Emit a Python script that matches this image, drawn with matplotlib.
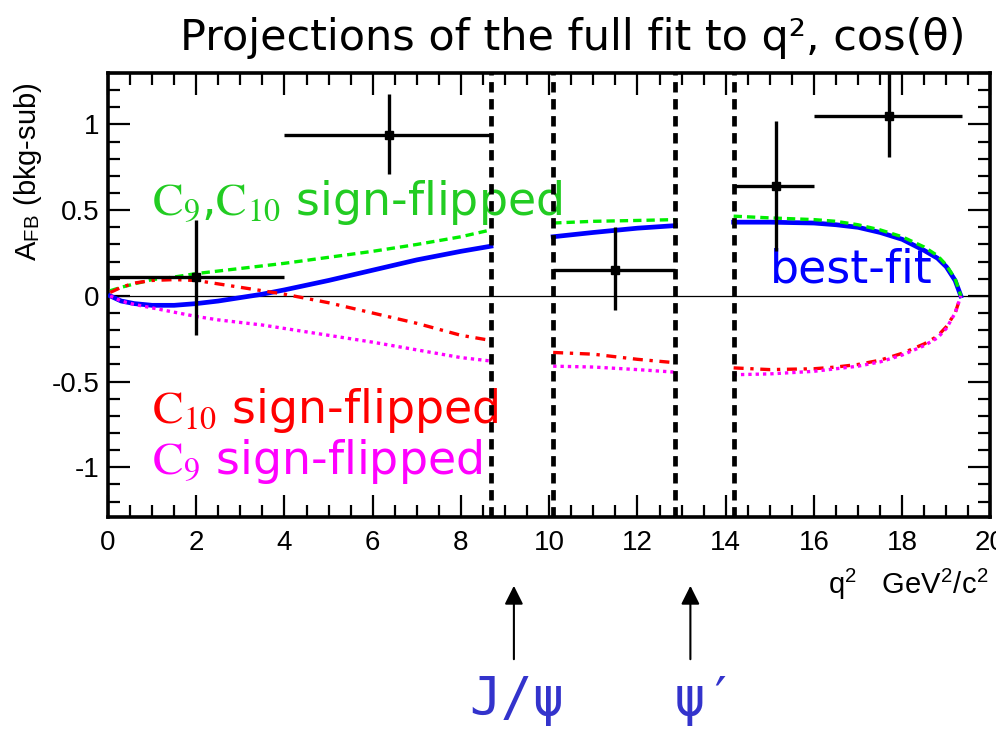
import matplotlib
matplotlib.use("Agg")
import matplotlib.pyplot as plt
from matplotlib.ticker import MultipleLocator

plt.rcParams['mathtext.fontset'] = 'stix'
plt.rcParams['font.family'] = 'Liberation Sans'

# charmonium veto edges (GeV^2/c^2)
veto_edges = [8.68, 10.09, 12.86, 14.18]

# binned data points (bkg-subtracted A_FB)
pt_q2 = [2.0, 6.36, 11.5, 15.15, 17.7]
pt_q2_lo = [0.0, 4.0, 10.09, 14.18, 16.0]
pt_q2_hi = [4.0, 8.68, 12.86, 16.0, 19.35]
pt_afb = [0.11, 0.94, 0.15, 0.64, 1.05]
pt_err_lo = [0.34, 0.23, 0.23, 0.38, 0.24]
pt_err_hi = [0.33, 0.24, 0.25, 0.38, 0.30]

# fit projections, one list per q2 window (low / between vetoes / high)
q2_low = [0.05, 0.3, 0.6, 1.0, 1.5, 2.0, 2.5, 3.0, 3.5, 4.0, 5.0, 6.0, 7.0, 8.0, 8.68]
q2_mid = [10.09, 11.0, 12.0, 12.86]
q2_high = [14.18, 15.0, 16.0, 16.5, 17.0, 17.5, 18.0, 18.5, 18.8, 19.0, 19.2, 19.33]

best_low = [0.0, -0.03, -0.045, -0.055, -0.055, -0.045, -0.03, -0.01, 0.01, 0.035, 0.09, 0.15, 0.21, 0.26, 0.29]
best_mid = [0.345, 0.37, 0.395, 0.41]
best_high = [0.43, 0.43, 0.425, 0.415, 0.40, 0.37, 0.33, 0.265, 0.22, 0.17, 0.09, 0.0]

c910_low = [0.03, 0.05, 0.07, 0.095, 0.11, 0.13, 0.145, 0.16, 0.175, 0.19, 0.225, 0.26, 0.30, 0.345, 0.385]
c910_mid = [0.425, 0.435, 0.44, 0.445]
c910_high = [0.465, 0.455, 0.445, 0.435, 0.415, 0.385, 0.345, 0.285, 0.235, 0.18, 0.1, 0.0]

c10_low = [0.02, 0.05, 0.075, 0.09, 0.095, 0.09, 0.07, 0.05, 0.03, 0.01, -0.04, -0.10, -0.16, -0.23, -0.26]
c10_mid = [-0.33, -0.34, -0.37, -0.39]
c10_high = [-0.42, -0.43, -0.425, -0.415, -0.40, -0.375, -0.335, -0.28, -0.235, -0.18, -0.10, 0.0]

c9_low = [0.0, -0.03, -0.05, -0.07, -0.095, -0.12, -0.14, -0.155, -0.17, -0.19, -0.23, -0.27, -0.315, -0.36, -0.38]
c9_mid = [-0.41, -0.415, -0.43, -0.445]
c9_high = [-0.46, -0.455, -0.44, -0.425, -0.41, -0.385, -0.345, -0.29, -0.245, -0.19, -0.10, 0.0]

fig = plt.figure(figsize=(9.96, 7.31), dpi=100)
ax = fig.add_axes([0.1084, 0.2927, 0.886, 0.6074])

ax.axhline(0, color='black', lw=0.9, zorder=1)

curves = [
    ([best_low, best_mid, best_high], '#0000ff', '-', 3.4),
    ([c910_low, c910_mid, c910_high], '#00ee00', (0, (2.5, 1.5)), 2.4),
    ([c10_low, c10_mid, c10_high], '#ff0000', (0, (3, 2, 1, 2)), 2.4),
    ([c9_low, c9_mid, c9_high], '#ff00ff', (0, (1, 1.2)), 2.4),
]
for segs, col, ls, lw in curves:
    for qs, ys in zip([q2_low, q2_mid, q2_high], segs):
        ax.plot(qs, ys, color=col, ls=ls, lw=lw, zorder=3)

for x in veto_edges:
    ax.axvline(x, color='black', lw=3.4, ls=(0, (2.2, 1.4)), zorder=4)

xerr = [[c - l for c, l in zip(pt_q2, pt_q2_lo)], [h - c for c, h in zip(pt_q2, pt_q2_hi)]]
ax.errorbar(pt_q2, pt_afb, xerr=xerr, yerr=[pt_err_lo, pt_err_hi], fmt='s', color='black',
            ms=6, elinewidth=2.4, capsize=0, zorder=5)

ax.set_xlim(0, 20)
ax.set_ylim(-1.29, 1.30)
ax.xaxis.set_minor_locator(MultipleLocator(0.5))
ax.yaxis.set_minor_locator(MultipleLocator(0.1))
ax.set_yticks([-1, -0.5, 0, 0.5, 1])
ax.set_yticklabels(['-1', '-0.5', '0', '0.5', '1'])
ax.set_xticks(range(0, 21, 2))
ax.set_xticklabels([str(v) for v in range(0, 21, 2)])
ax.tick_params(which='both', direction='in', top=True, right=True, width=1.6, labelsize=20)
ax.tick_params(which='major', length=16)
ax.tick_params(which='minor', length=8.5)
ax.tick_params(axis='x', pad=9)
ax.tick_params(axis='y', pad=6)
for sp in ax.spines.values():
    sp.set_linewidth(2.6)

# curve labels
lab_font = dict(fontsize=33, family='DejaVu Sans')
ax.text(1.0, 0.47, r'$\mathrm{C}_{9}$,$\mathrm{C}_{10}$ sign-flipped', color='#22cc22', **lab_font)
ax.text(15.0, 0.08, 'best-fit', color='#0000ff', **lab_font)
ax.text(1.0, -0.74, r'$\mathrm{C}_{10}$ sign-flipped', color='#ff0000', **lab_font)
ax.text(1.0, -1.04, r'$\mathrm{C}_{9}$ sign-flipped', color='#ff00ff', **lab_font)

fig.text(28 / 996, 1 - 172 / 731, r'A$_\mathregular{FB}$ (bkg-sub)', rotation=90, ha='center',
         va='center', fontsize=21)
fig.text(988 / 996, 1 - 585 / 731, r'q$^\mathregular{2}$   GeV$^\mathregular{2}$/c$^\mathregular{2}$',
         ha='right', va='center', fontsize=21)

fig.text(573 / 996, 1 - 38 / 731, 'Projections of the full fit to q², cos(θ)', ha='center',
         va='center', fontsize=31, family='DejaVu Sans')

# resonance arrows under the axis
for xq, lab, xl in [(9.2, 'J/ψ', 517), (13.2, 'ψ′', 705)]:
    ax.annotate('', xy=(xq, 1 - 583 / 731), xytext=(xq, 1 - 662 / 731),
                xycoords=('data', 'figure fraction'), textcoords=('data', 'figure fraction'),
                arrowprops=dict(arrowstyle='-|>', color='black', lw=1.5, mutation_scale=28),
                annotation_clip=False)
    fig.text(xl / 996, 1 - 700 / 731, lab, ha='center', va='center', color='#3333cc',
             fontsize=38, family='DejaVu Sans Mono')

fig.savefig('out.png', dpi=100)
